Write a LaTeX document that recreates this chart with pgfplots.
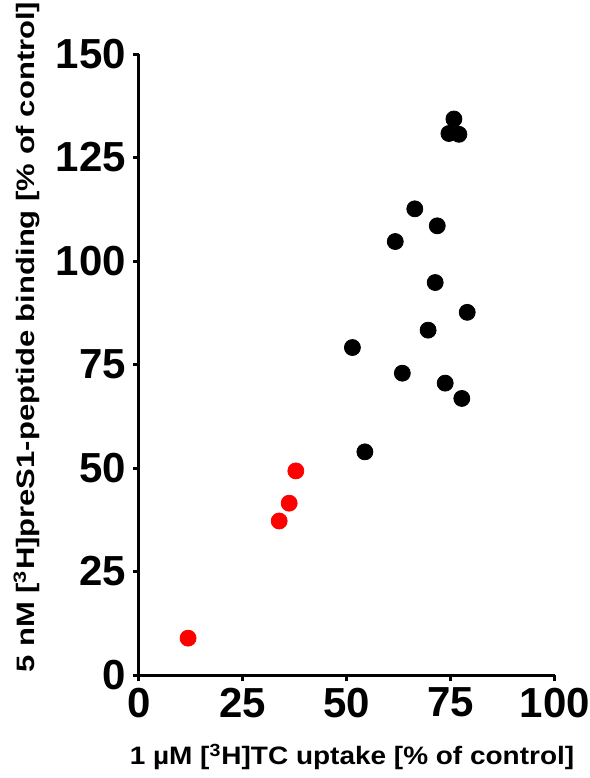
\documentclass[border=0pt]{standalone}
\usepackage{pgfplots}
\pgfplotsset{compat=1.18}
\usepackage{fontspec}
\setmainfont{Liberation Sans}
\newfontfamily\ylabfont[FakeStretch=1.23]{Liberation Sans}
\newfontfamily\xlabfont[FakeStretch=1.11]{Liberation Sans}
\begin{document}
\begin{tikzpicture}
\path[use as bounding box] (-69.5pt,-51.5pt) rectangle (225.5pt,337.5pt);
\begin{axis}[
  at={(0,0)}, anchor=origin,
  scale only axis,
  width=208pt, height=310.5pt,
  xmin=0, xmax=100, ymin=0, ymax=150,
  xtick={0,25,50,75,100},
  ytick={0,25,50,75,100,125,150},
  axis x line*=bottom, axis y line*=left,
  axis line style={-, line width=1.5pt},
  major tick length=3pt,
  tick align=outside,
  xtick style={draw=black, line width=1.5pt},
  ytick style={draw=black, line width=1.5pt},
  /pgf/number format/assume math mode=true,
  ticklabel style={font=\fontsize{21}{21}\selectfont\bfseries},
  xlabel={\xlabfont\bfseries 1 µM [\textsuperscript{3}H]TC uptake [\% of control]},
  ylabel={\ylabfont\bfseries 5 nM [\textsuperscript{3}H]preS1-peptide binding [\% of control]},
  label style={font=\fontsize{12.6}{13}\selectfont},
  xlabel style={at={(axis description cs:0.512,-0.132)}, anchor=center},
  ylabel style={at={(axis description cs:-0.27,0.544)}, anchor=center},
  clip=false,
]
\addplot[only marks, mark=*, mark size=4pt, mark options={draw=black, fill=black}] coordinates {
(75.7,134.3) (74.5,130.8) (76.9,130.6) (66.3,112.6) (71.7,108.5) (61.6,104.7)
(71.2,94.8) (78.9,87.6) (69.5,83.3) (51.3,79.1) (63.3,72.9) (73.6,70.5)
(77.6,66.8) (54.3,53.9)
};
\addplot[only marks, mark=*, mark size=4pt, mark options={draw=red, fill=red}] coordinates {
(11.8,8.9) (33.7,37.2) (36.1,41.5) (37.7,49.3)
};
\end{axis}
\end{tikzpicture}
\end{document}
